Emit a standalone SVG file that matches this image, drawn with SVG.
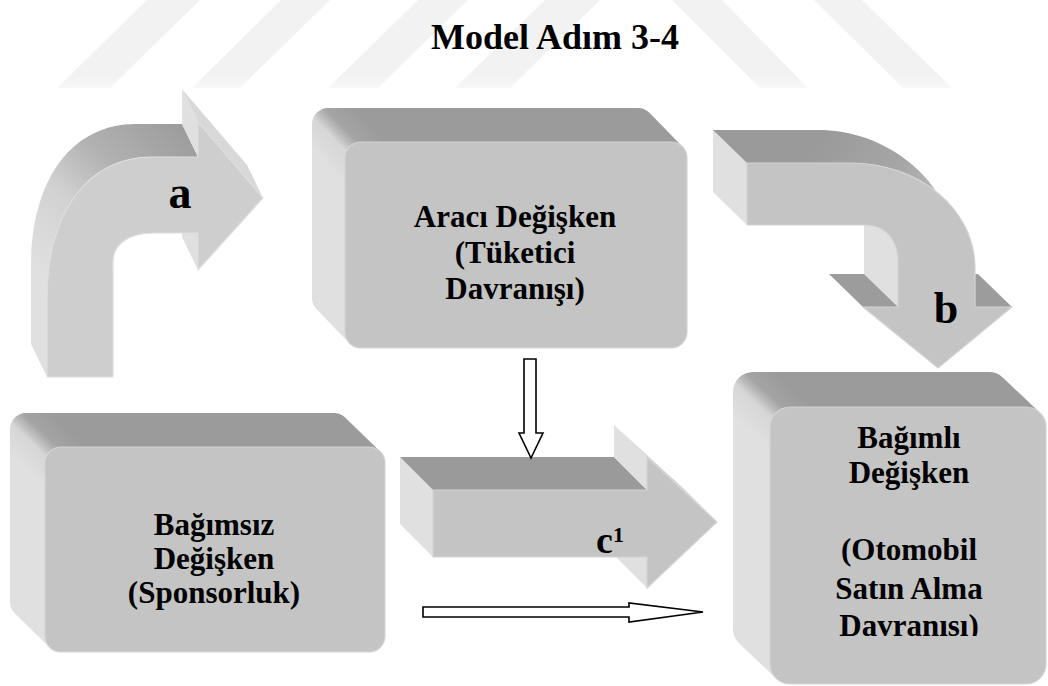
<svg xmlns="http://www.w3.org/2000/svg" width="1048" height="686" viewBox="0 0 1048 686">
<style>
.t{font-family:"Liberation Serif","Times New Roman",serif;font-weight:bold;font-size:31px;fill:#000;text-anchor:middle}
.lbl{font-family:"Liberation Serif","Times New Roman",serif;font-weight:bold;fill:#000}
.front{fill:#c4c4c4;stroke:#d4d4d4;stroke-width:1.2}
.light{fill:#e0e0e0}
.dark{fill:#9c9c9c}
.wm{fill:#f3f3f3}
.outline{fill:#fff;stroke:#000;stroke-width:1.6;stroke-linejoin:miter}
</style>
<defs>
<linearGradient id="g1" gradientUnits="userSpaceOnUse" x1="323" y1="162" x2="366" y2="120">
<stop offset="0" stop-color="#e0e0e0"/><stop offset="0.4" stop-color="#d6d6d6"/><stop offset="0.52" stop-color="#bcbcbc"/><stop offset="0.65" stop-color="#a4a4a4"/><stop offset="1" stop-color="#9b9b9b"/>
</linearGradient>
<linearGradient id="g2" gradientUnits="userSpaceOnUse" x1="22.6" y1="467.5" x2="64.4" y2="424.5">
<stop offset="0" stop-color="#e0e0e0"/><stop offset="0.4" stop-color="#d6d6d6"/><stop offset="0.52" stop-color="#bcbcbc"/><stop offset="0.65" stop-color="#a4a4a4"/><stop offset="1" stop-color="#9b9b9b"/>
</linearGradient>
<linearGradient id="g3" gradientUnits="userSpaceOnUse" x1="750.9" y1="431.3" x2="792.1" y2="387.7">
<stop offset="0" stop-color="#e0e0e0"/><stop offset="0.4" stop-color="#d6d6d6"/><stop offset="0.52" stop-color="#bcbcbc"/><stop offset="0.65" stop-color="#a4a4a4"/><stop offset="1" stop-color="#9b9b9b"/>
</linearGradient>
<linearGradient id="ga" gradientUnits="userSpaceOnUse" x1="35" y1="270" x2="178" y2="122">
<stop offset="0" stop-color="#e0e0e0"/><stop offset="0.35" stop-color="#d2d2d2"/><stop offset="0.62" stop-color="#b2b2b2"/><stop offset="1" stop-color="#9c9c9c"/>
</linearGradient>
<linearGradient id="gb" gradientUnits="userSpaceOnUse" x1="820" y1="140" x2="965" y2="245">
<stop offset="0" stop-color="#9a9a9a"/><stop offset="0.45" stop-color="#a6a6a6"/><stop offset="0.8" stop-color="#bdbdbd"/><stop offset="1" stop-color="#cccccc"/>
</linearGradient>
<linearGradient id="wmfade" x1="0" y1="0" x2="0" y2="1">
<stop offset="0" stop-color="#f2f2f2"/><stop offset="0.85" stop-color="#f2f2f2"/><stop offset="1" stop-color="#f8f8f8"/>
</linearGradient>
<clipPath id="clip3"><rect x="760" y="380" width="288" height="256"/></clipPath>
</defs>

<g id="watermark" fill="url(#wmfade)">
<polygon points="147,0 200,0 110,88 57,88"/>
<polygon points="281,0 330,0 240,88 192,88"/>
<polygon points="418,0 468,0 378,88 328,88"/>
<polygon points="545,0 600,0 510,88 455,88"/>
<polygon points="672,0 722,0 808,88 760,88"/>
<polygon points="814,0 862,0 952,88 903,88"/>
</g>

<g id="title">
<text class="lbl" x="555" y="49" font-size="36" text-anchor="middle">Model Adım 3-4</text>
</g>

<g id="node-araci">
<polygon points="328,124 638,124 671,158 671,332 361,332 328,298" fill="url(#g1)" stroke="url(#g1)" stroke-width="32" stroke-linejoin="round"/>
<rect class="front" x="345" y="142" width="342" height="206" rx="16"/>
<text class="t" x="515" y="227">Aracı Değişken</text>
<text class="t" x="515" y="263">(Tüketici</text>
<text class="t" x="515" y="299">Davranışı)</text>
</g>

<g id="node-bagimsiz">
<polygon points="26,429 334,429 369,463 369,636 61,636 26,602" fill="url(#g2)" stroke="url(#g2)" stroke-width="32" stroke-linejoin="round"/>
<rect class="front" x="45" y="447" width="340" height="205" rx="16"/>
<text class="t" x="214" y="535">Bağımsız</text>
<text class="t" x="214" y="569">Değişken</text>
<text class="t" x="214" y="603">(Sponsorluk)</text>
</g>

<g id="node-bagimli">
<polygon points="753,392 989,392 1026,427 1026,664 790,664 753,629" fill="url(#g3)" stroke="url(#g3)" stroke-width="40" stroke-linejoin="round"/>
<rect class="front" x="770" y="407" width="276" height="277" rx="20"/>
<g clip-path="url(#clip3)">
<text class="t" x="909" y="448">Bağımlı</text>
<text class="t" x="909" y="483">Değişken</text>
<text class="t" x="909" y="560">(Otomobil</text>
<text class="t" x="909" y="599">Satın Alma</text>
<text class="t" x="909" y="636">Davranışı)</text>
</g>
</g>

<g id="connectors">
<g id="arrow-a">
<path d="M31,344 L31,267 C31,179 72,124 136,124 L182,124 L198,157 L152,157 C88,157 47,212 47,300 L47,377 Z" fill="url(#ga)"/>
<polygon class="light" points="182,89 198,122 198,157 182,124"/>
<polygon fill="#d8d8d8" points="182,89 247,165 263,198 198,122"/>
<polygon class="light" points="182,200 182,237 198,270 198,233"/>
<path d="M47,377 L47,300 C47,212 88,157 152,157 L198,157 L198,122 L263,198 L198,270 L198,233 L155,233 C130,233 113,243 113,262 L113,377 Z" fill="#cecece" stroke="#dedede" stroke-width="1.2"/>
<text class="lbl" x="180" y="208" font-size="46" text-anchor="middle">a</text>
</g>
<g id="arrow-b">
<polygon class="light" points="713,130 747,163 747,225 713,192"/>
<path d="M713,130 L818,130 C880,130 935,170 951,222 L975,268 C975,209 919,163 850,163 L747,163 Z" fill="url(#gb)"/>
<path d="M864,225 L864,274 L898,307 L898,262 C898,240 886,226 866,225 Z" class="light"/>
<polygon class="dark" points="829,274 864,274 898,307 863,307"/>
<polygon class="dark" points="941,274 978,274 1012,307 975,307"/>
<path class="front" d="M747,163 L850,163 C919,163 975,209 975,268 L975,307 L1012,307 L938,368 L863,307 L898,307 L898,262 C898,240 886,226 866,225 L747,225 Z"/>
<text class="lbl" x="946" y="323" font-size="44" text-anchor="middle">b</text>
</g>
<g id="arrow-c1">
<polygon class="light" points="400,457 433,490 433,557 400,524"/>
<polygon fill="#9a9a9a" points="400,457 614,457 647,490 433,490"/>
<polygon class="light" points="614,425 614,457 647,490 647,457"/>
<polygon fill="#d2d2d2" points="614,425 684,489 717,522 647,457"/>
<polygon class="light" points="614,524 614,555 647,588 647,557"/>
<polygon class="front" points="433,490 647,490 647,457 717,522 647,588 647,557 433,557"/>
<text class="lbl" x="596" y="553" font-size="38">c<tspan dy="-11" font-size="22">1</tspan></text>
</g>
<polygon id="arrow-down" class="outline" points="524,359 536,359 536,433 543,433 531,458 519,433 524,433"/>
<polygon id="arrow-right" class="outline" points="423,607 629,607 629,603 703,612 629,622 629,617 423,617"/>
</g>
</svg>
